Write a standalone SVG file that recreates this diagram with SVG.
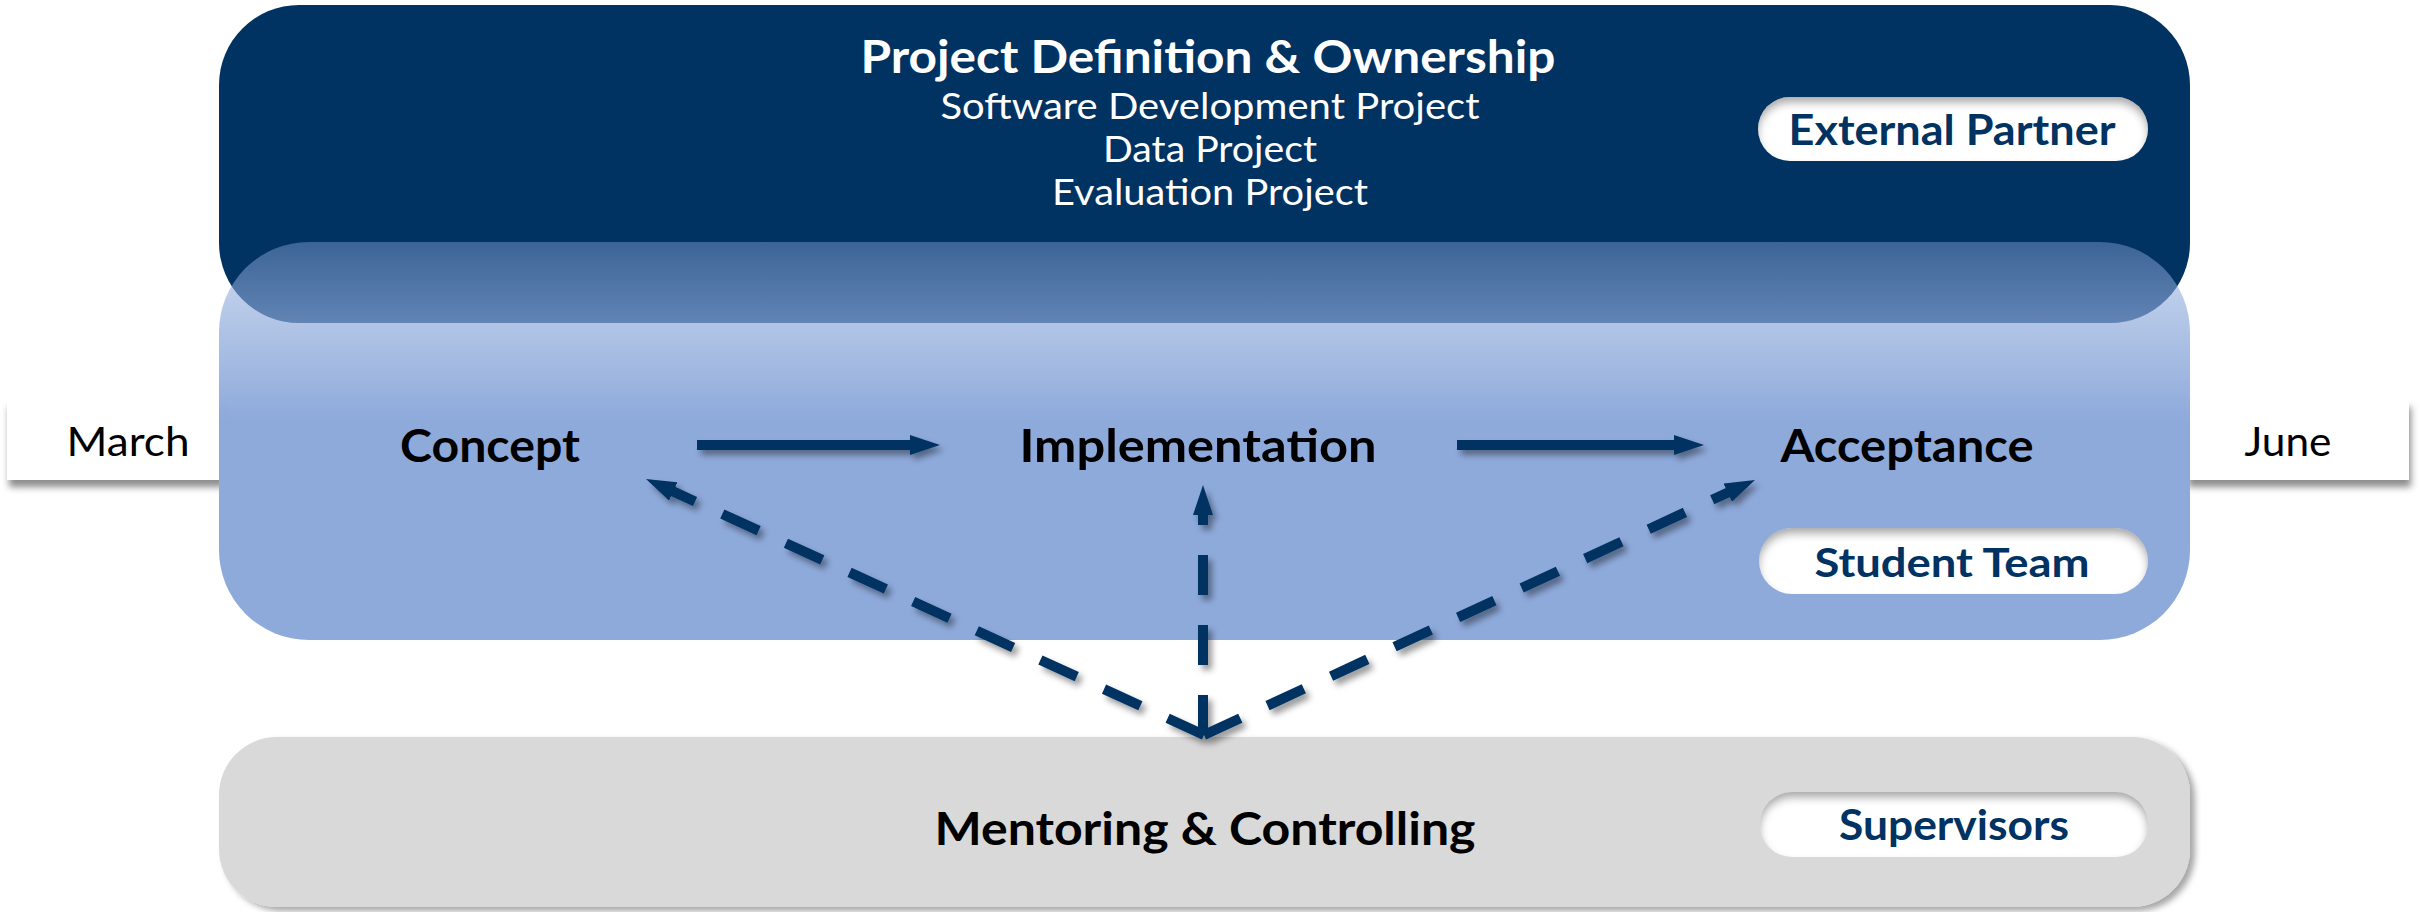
<svg xmlns="http://www.w3.org/2000/svg" width="2420" height="912" viewBox="0 0 2420 912">
<style>
.t{font-family:"Lato","Open Sans",sans-serif;text-anchor:middle}
.b{font-weight:bold}
.w{fill:#ffffff}
.k{fill:#000000}
.n{fill:#003262}
.ln{stroke:#003262;stroke-width:10;fill:none}
.ds{stroke-dasharray:40 30}
.pill{fill:#ffffff}
</style>
<defs>
<linearGradient id="lg" x1="0" y1="0" x2="0" y2="1">
<stop offset="0" stop-color="#8EAADB" stop-opacity="0.42"/>
<stop offset="0.447" stop-color="#8EAADB" stop-opacity="1"/>
<stop offset="1" stop-color="#8EAADB" stop-opacity="1"/>
</linearGradient>
<filter id="shadow" x="-10%" y="-10%" width="125%" height="130%">
<feDropShadow dx="4" dy="5" stdDeviation="3" flood-color="#000" flood-opacity="0.4"/>
</filter>
<filter id="boxshadow" x="-5%" y="-20%" width="110%" height="150%">
<feDropShadow dx="2" dy="7" stdDeviation="3.5" flood-color="#000" flood-opacity="0.45"/>
</filter>
<filter id="grayshadow" x="-2%" y="-10%" width="104%" height="125%">
<feDropShadow dx="5" dy="4" stdDeviation="3" flood-color="#000" flood-opacity="0.35"/>
</filter>
<filter id="inner" x="-5%" y="-25%" width="110%" height="150%">
<feComponentTransfer in="SourceAlpha"><feFuncA type="table" tableValues="1 0"/></feComponentTransfer>
<feGaussianBlur stdDeviation="4"/>
<feOffset dx="0" dy="6" result="ob"/>
<feFlood flood-color="#000" flood-opacity="0.6"/>
<feComposite in2="ob" operator="in"/>
<feComposite in2="SourceAlpha" operator="in" result="is"/>
<feMerge><feMergeNode in="SourceGraphic"/><feMergeNode in="is"/></feMerge>
</filter>
<marker id="ah" markerUnits="userSpaceOnUse" viewBox="0 0 30 20" markerWidth="30" markerHeight="20" refX="5" refY="10" orient="auto">
<path d="M0,0 L30,10 L0,20 z" fill="#003262"/>
</marker>
</defs>

<g id="march">
<rect x="7" y="400" width="216" height="80" fill="#ffffff" filter="url(#boxshadow)"/>
<text class="t" x="128" y="456" font-size="40" textLength="123" lengthAdjust="spacingAndGlyphs">March</text>
</g>
<g id="june">
<rect x="2186" y="400" width="223" height="80" fill="#ffffff" filter="url(#boxshadow)"/>
<text class="t" x="2288" y="456" font-size="40" textLength="87" lengthAdjust="spacingAndGlyphs">June</text>
</g>

<g id="external-partner-layer">
<rect x="219" y="5" width="1971" height="318" rx="80" ry="80" fill="#003262"/>
<text class="t b w" x="1208" y="73" font-size="46" textLength="695" lengthAdjust="spacingAndGlyphs">Project Definition &amp; Ownership</text>
<text class="t w" x="1210" y="119" font-size="37" textLength="539" lengthAdjust="spacingAndGlyphs">Software Development Project</text>
<text class="t w" x="1210" y="162" font-size="37" textLength="214" lengthAdjust="spacingAndGlyphs">Data Project</text>
<text class="t w" x="1210" y="205" font-size="37" textLength="316" lengthAdjust="spacingAndGlyphs">Evaluation Project</text>
</g>
<g id="external-partner-pill">
<rect class="pill" x="1758" y="97" width="390" height="64" rx="32" ry="32" filter="url(#inner)"/>
<text class="t b n" x="1952" y="145" font-size="42" textLength="327" lengthAdjust="spacingAndGlyphs">External Partner</text>
</g>

<g id="student-team-layer">
<rect x="219" y="242" width="1971" height="398" rx="90" ry="90" fill="url(#lg)"/>
</g>
<g id="student-team-pill">
<rect class="pill" x="1759" y="528" width="389" height="66" rx="33" ry="33" filter="url(#inner)"/>
<text class="t b n" x="1952" y="577" font-size="41" textLength="275" lengthAdjust="spacingAndGlyphs">Student Team</text>
</g>

<g id="supervisors-layer">
<rect x="219" y="737" width="1971" height="170" rx="58" ry="58" fill="#D9D9D9" filter="url(#grayshadow)"/>
<text class="t b k" x="1205" y="845" font-size="46" textLength="541" lengthAdjust="spacingAndGlyphs">Mentoring &amp; Controlling</text>
</g>
<g id="supervisors-pill">
<rect class="pill" x="1760" y="792" width="388" height="65" rx="32" ry="32" filter="url(#inner)"/>
<text class="t b n" x="1954" y="840" font-size="42" textLength="230" lengthAdjust="spacingAndGlyphs">Supervisors</text>
</g>

<g id="concept">
<text class="t b k" x="490" y="462" font-size="46" textLength="180" lengthAdjust="spacingAndGlyphs">Concept</text>
</g>
<g id="implementation">
<text class="t b k" x="1198" y="462" font-size="46" textLength="357" lengthAdjust="spacingAndGlyphs">Implementation</text>
</g>
<g id="acceptance">
<text class="t b k" x="1907" y="462" font-size="46" textLength="253" lengthAdjust="spacingAndGlyphs">Acceptance</text>
</g>

<g id="connectors" filter="url(#shadow)">
<line class="ln" x1="697" y1="445" x2="915" y2="445" marker-end="url(#ah)"/>
<line class="ln" x1="1457" y1="445" x2="1679" y2="445" marker-end="url(#ah)"/>
<line class="ln ds" x1="1203" y1="735" x2="1203" y2="510" marker-end="url(#ah)"/>
<line class="ln ds" x1="1204" y1="735" x2="668.7" y2="489.4" marker-end="url(#ah)"/>
<line class="ln ds" x1="1204" y1="735" x2="1732.3" y2="490.5" marker-end="url(#ah)"/>
</g>
</svg>
